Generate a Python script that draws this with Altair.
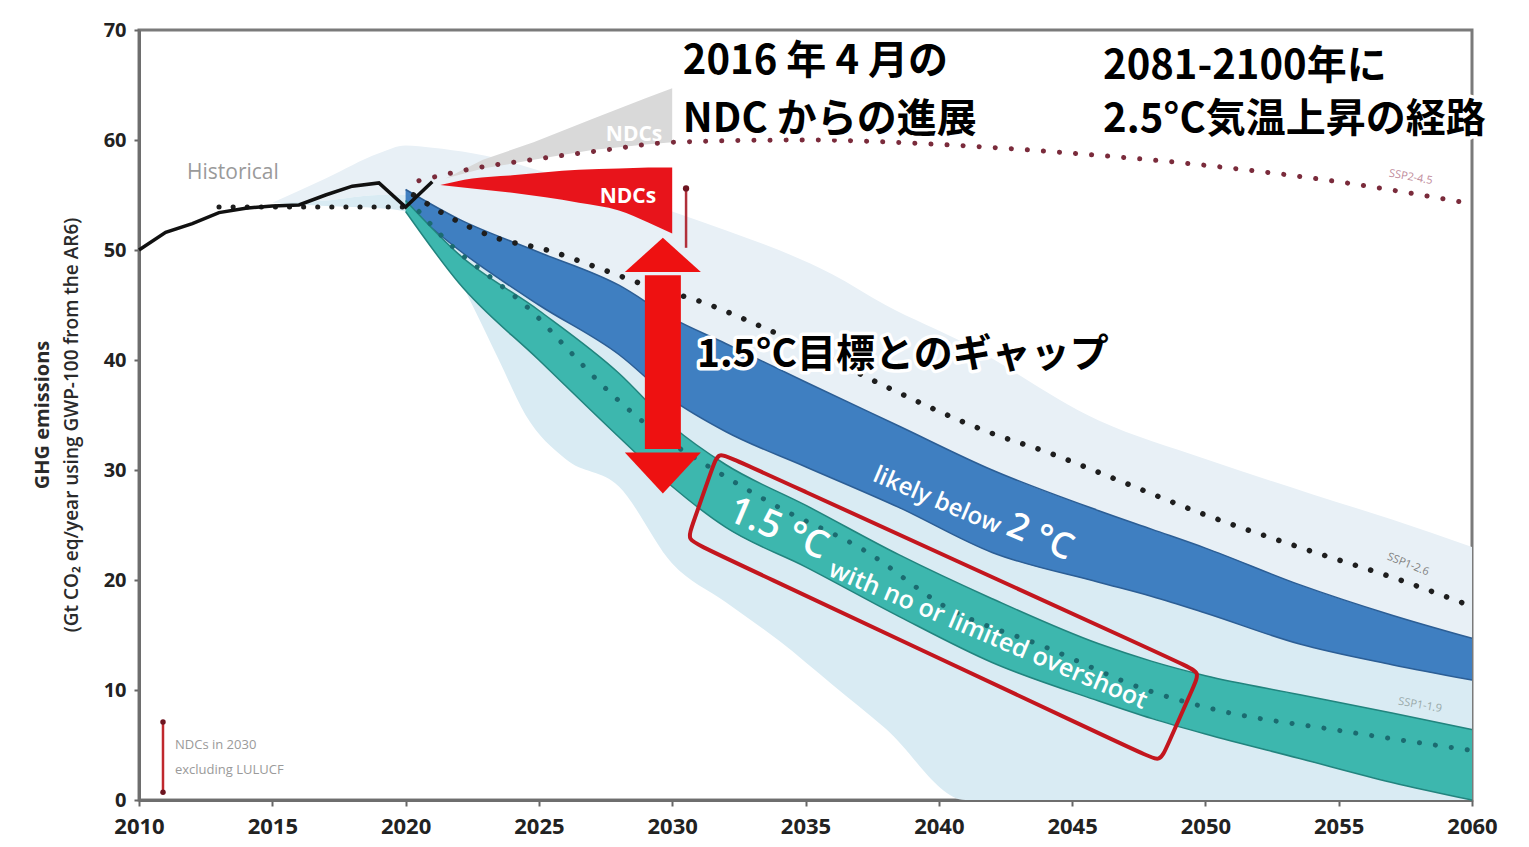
import math
import altair as alt
import pandas as pd

# ---------------- data ----------------
hist_years = [2010, 2011, 2012, 2013, 2014, 2015, 2016, 2017, 2018, 2019, 2020, 2021]
hist_vals = [50.0, 51.6, 52.4, 53.4, 53.8, 54.0, 54.1, 55.0, 55.8, 56.1, 53.9, 56.2]

base_years = [2013, 2020]
base_vals = [53.9, 53.9]

haze_years = [2015, 2017, 2019, 2020, 2021, 2022.5, 2023.5, 2024.5, 2026, 2028, 2030,
              2032, 2034, 2036, 2038, 2041, 2046, 2050, 2054, 2057, 2060]
haze_top = [54.3, 56.5, 58.8, 59.5, 59.3, 58.8, 58.3, 57.6, 56.5, 55.0, 53.5,
            51.8, 50.0, 47.8, 45.0, 41.5, 34.5, 31.0, 27.8, 25.5, 23.0]
haze_mid = [54.3, 54.5, 55.0, 55.0, 54.0, 50.0, 48.5, 47.5, 45.5, 43.0, 39.5,
            37.0, 34.5, 32.5, 30.5, 27.5, 23.0, 20.0, 16.5, 14.5, 13.0]
haze_low = [54.3, 54.0, 53.8, 53.5, 52.0, 45.0, 40.0, 35.0, 31.0, 28.5, 21.5,
            18.0, 14.5, 10.5, 6.5, 0.0, 0.0, 0.0, 0.0, 0.0, 0.0]

ndc16_years = [2021.5, 2022.9, 2024.8, 2027, 2029, 2030]
ndc16_top = [56.5, 58.2, 59.8, 61.9, 63.8, 64.7]
ndc16_bot = [56.5, 57.4, 58.2, 59.1, 59.6, 59.8]

ndc_years = [2021.3, 2022.5, 2024, 2026.5, 2028, 2029.1, 2030]
ndc_top = [55.9, 56.5, 56.8, 57.3, 57.4, 57.5, 57.5]
ndc_bot = [55.9, 55.6, 55.2, 54.3, 53.6, 52.5, 51.5]

band_years = [2020, 2022, 2025, 2028, 2030, 2032, 2035, 2038.5, 2042, 2046, 2048, 2050, 2053.5, 2057, 2060]
b2_top = [55.5, 52.8, 49.8, 46.8, 43.8, 41.5, 38.0, 34.0, 30.0, 26.3, 24.6, 22.9, 19.6, 16.8, 14.7]
b2_bot = [54.0, 50.0, 45.0, 40.5, 36.4, 33.5, 30.3, 26.6, 22.5, 19.8, 18.5, 17.0, 14.2, 12.3, 10.9]
b15_top = [54.5, 49.6, 44.5, 38.8, 34.0, 30.5, 26.8, 22.3, 18.3, 14.2, 12.6, 11.3, 9.6, 7.9, 6.4]
b15_bot = [53.5, 47.0, 40.0, 33.0, 28.5, 24.8, 21.2, 16.7, 12.5, 9.0, 7.4, 6.0, 3.8, 1.6, 0.0]

ssp245_years = [2020.5, 2022.3, 2025, 2027.5, 2030, 2035, 2040, 2045, 2050, 2055, 2060]
ssp245_vals = [56.3, 57.3, 58.3, 59.1, 59.8, 60.0, 59.6, 58.8, 57.7, 56.2, 54.2]

ssp126_years = [2020.3, 2021.5, 2023.4, 2025.3, 2027.2, 2029, 2031.2, 2033, 2035, 2038,
                2041.7, 2044.2, 2046.7, 2049.8, 2053.5, 2057.3, 2060]
ssp126_vals = [55.0, 53.2, 51.1, 50.0, 48.4, 46.8, 45.2, 43.4, 41.2, 37.6,
               33.6, 31.5, 29.1, 26.1, 23.0, 20.0, 17.6]

ssp119_years = [2020.5, 2021.9, 2023.2, 2024.7, 2026, 2027.3, 2028.7, 2032.2, 2034,
                2037.2, 2040.3, 2044, 2047.8, 2050.4, 2054.8, 2060]
ssp119_vals = [53.5, 50.0, 47.5, 44.5, 41.2, 37.9, 34.8, 29.1, 26.6,
               22.7, 17.5, 13.9, 10.0, 8.2, 6.4, 4.5]

# NDC 2030 range bar and legend bar
ndc_bar_year = [2030.52]
ndc_bar_low = [50.2]
ndc_bar_high = [55.6]
legend_bar_year = [2010.9]
legend_bar_low = [0.7]
legend_bar_high = [7.1]

# gap arrow (1.5 °C gap)
arrow_year = [2029.65]
arrow_low = [31.6]
arrow_high = [48.0]

# rotated highlight box around the 1.5 °C band label
box_years = [2031.72, 2049.80, 2048.30, 2030.56]
box_vals = [31.64, 11.64, 3.45, 23.64]

# ---------------- helpers ----------------
W, H = 1333, 770
PPY = W / 50.0
PPU = H / 70.0

xscale = alt.Scale(domain=[2010, 2060], nice=False, zero=False)
yscale = alt.Scale(domain=[0, 70], nice=False, zero=False)
xaxis = alt.Axis(values=list(range(2010, 2061, 5)), format="d", title=None, grid=False,
                 labelFont="Open Sans", labelFontSize=22, labelFontWeight="bold",
                 labelColor="#222222", labelPadding=10, tickSize=6, tickColor="#666666",
                 tickWidth=2, domainColor="#6e6e6e", domainWidth=3, labelFlush=False,
                 labelOverlap=False)
yaxis = alt.Axis(values=list(range(0, 71, 10)), title=None, grid=False,
                 labelFont="Open Sans", labelFontSize=20, labelFontWeight="bold",
                 labelColor="#222222", labelPadding=8, tickSize=5, tickColor="#666666",
                 tickWidth=2, domainColor="#6e6e6e", domainWidth=3, labelFlush=False,
                 labelOverlap=False)
X = alt.X("year:Q", scale=xscale, axis=xaxis)
Y = alt.Y("val:Q", scale=yscale, axis=yaxis)


def band(years, lo, hi, color, interp="monotone"):
    d = pd.DataFrame({"year": years, "val": lo, "val2": hi})
    return alt.Chart(d).mark_area(color=color, interpolate=interp).encode(x=X, y=Y, y2="val2:Q")


def line(years, vals, color, width, interp="monotone", dotted=False, dash=16):
    d = pd.DataFrame({"year": years, "val": vals})
    kw = dict(color=color, strokeWidth=width, interpolate=interp)
    if dotted:
        kw.update(strokeDash=[0.1, dash], strokeCap="round")
    return alt.Chart(d).mark_line(**kw).encode(x=X, y=Y)


def texts(labels, years, vals, **props):
    d = pd.DataFrame({"t": labels, "year": years, "val": vals})
    return alt.Chart(d).mark_text(**props).encode(x=X, y=Y, text="t:N")


layers = []

# haze of scenario ranges
layers.append(band(haze_years, haze_mid, haze_top, "#e8f0f6"))
layers.append(band(haze_years, haze_low, haze_mid, "#d9ebf3"))

# 2016 NDCs (grey) wedge
layers.append(band(ndc16_years, ndc16_bot, ndc16_top, "#d9d9d9", interp="linear"))

# likely below 2 °C band
layers.append(band(band_years, b2_bot, b2_top, "#3f7fc1"))
layers.append(line(band_years, b2_top, "#2c5e95", 1.5))
layers.append(line(band_years, b2_bot, "#2c5e95", 1.5))

# 1.5 °C band
layers.append(band(band_years, b15_bot, b15_top, "#3db7ae"))
layers.append(line(band_years, b15_top, "#22847e", 1.5))
layers.append(line(band_years, b15_bot, "#22847e", 1.5))

# SSP dotted pathways
layers.append(line(ssp245_years, ssp245_vals, "#7a2b3b", 5, dotted=True, dash=16))
layers.append(line(ssp126_years, ssp126_vals, "#1e1e1e", 5.5, dotted=True, dash=16))
layers.append(line(ssp119_years, ssp119_vals, "#1b6b70", 5, dotted=True, dash=16))
layers.append(line(base_years, base_vals, "#1e1e1e", 5, interp="linear", dotted=True, dash=14))

# historical
layers.append(line(hist_years, hist_vals, "#111111", 3.5, interp="linear"))

# current NDCs (red) wedge
layers.append(band(ndc_years, ndc_bot, ndc_top, "#e8141b"))

# NDC 2030 range bar
d_bar = pd.DataFrame({"year": ndc_bar_year, "val": ndc_bar_low, "val2": ndc_bar_high})
layers.append(alt.Chart(d_bar).mark_rule(color="#b0303a", strokeWidth=2.5)
              .encode(x=X, y=Y, y2="val2:Q"))
layers.append(alt.Chart(pd.DataFrame({"year": ndc_bar_year, "val": ndc_bar_high}))
              .mark_point(filled=True, color="#6e1520", size=40, opacity=1).encode(x=X, y=Y))

# legend bar
d_lb = pd.DataFrame({"year": legend_bar_year, "val": legend_bar_low, "val2": legend_bar_high})
layers.append(alt.Chart(d_lb).mark_rule(color="#c0282d", strokeWidth=2.5)
              .encode(x=X, y=Y, y2="val2:Q"))
layers.append(alt.Chart(pd.DataFrame({"year": legend_bar_year * 2,
                                      "val": legend_bar_low + legend_bar_high}))
              .mark_point(filled=True, color="#6e1520", size=30, opacity=1).encode(x=X, y=Y))

# gap arrow
d_arrow = pd.DataFrame({"year": arrow_year, "val": [arrow_low[0] + 0.3], "val2": [arrow_high[0] - 0.3]})
layers.append(alt.Chart(d_arrow).mark_rule(color="#ee1111", strokeWidth=36)
              .encode(x=X, y=Y, y2="val2:Q"))
layers.append(alt.Chart(pd.DataFrame({"year": arrow_year, "val": arrow_high}))
              .mark_point(filled=True, color="#ee1111", opacity=1, size=5776,
                          shape="M0,-0.9L1,0L-1,0Z").encode(x=X, y=Y))
layers.append(alt.Chart(pd.DataFrame({"year": arrow_year, "val": arrow_low}))
              .mark_point(filled=True, color="#ee1111", opacity=1, size=5776,
                          shape="M0,1.08L1,0L-1,0Z").encode(x=X, y=Y))

# rounded highlight box (control points near corners for a basis-closed curve)
pts = []
radius = 16.0
n = len(box_years)
for i in range(n):
    cx, cy = box_years[i], box_vals[i]
    px_, py_ = box_years[i - 1], box_vals[i - 1]
    nx_, ny_ = box_years[(i + 1) % n], box_vals[(i + 1) % n]
    lp = math.hypot((px_ - cx) * PPY, (py_ - cy) * PPU)
    ln = math.hypot((nx_ - cx) * PPY, (ny_ - cy) * PPU)
    fp, fn = radius / lp, radius / ln
    pts.append((cx + fp * (px_ - cx), cy + fp * (py_ - cy)))
    pts.append((cx, cy))
    pts.append((cx + fn * (nx_ - cx), cy + fn * (ny_ - cy)))
d_box = pd.DataFrame({"year": [p[0] for p in pts], "val": [p[1] for p in pts],
                      "i": list(range(len(pts)))})
layers.append(alt.Chart(d_box).mark_line(color="#c3161e", strokeWidth=4,
                                         interpolate="basis-closed")
              .encode(x=X, y=Y, order="i:Q"))

# ---------------- text ----------------
layers.append(texts(["Historical"], [2011.8], [57.0], align="left", baseline="middle",
                    font="Open Sans", fontSize=21, color="#9a9a9a"))
layers.append(texts(["NDCs"], [2028.57], [60.45], align="center", baseline="middle",
                    font="Open Sans", fontSize=21, fontWeight="bold", color="#ffffff"))
layers.append(texts(["NDCs"], [2028.34], [54.8], align="center", baseline="middle",
                    font="Open Sans", fontSize=21, fontWeight="bold", color="#ffffff"))
layers.append(texts(["NDCs in 2030", "excluding LULUCF"], [2011.35, 2011.35], [5.0, 2.73],
                    align="left", baseline="middle", font="Open Sans", fontSize=13,
                    color="#9a9a9a"))
layers.append(texts(["SSP2-4.5"], [2057.7], [56.6], align="center", baseline="middle",
                    font="Open Sans", fontSize=11, color="#c08a9a", angle=10))
layers.append(texts(["SSP1-2.6"], [2057.6], [21.4], align="center", baseline="middle",
                    font="Open Sans", fontSize=11, color="#808080", angle=22))
layers.append(texts(["SSP1-1.9"], [2058.05], [8.6], align="center", baseline="middle",
                    font="Open Sans", fontSize=11, color="#9aaaaa", angle=10))

band_txt = dict(align="center", baseline="middle", font="Open Sans", fontWeight=600,
                color="#ffffff", angle=23)
layers.append(texts(["likely below"], [2039.93], [27.2], fontSize=24, **band_txt))
layers.append(texts(["2 °C"], [2043.8], [23.9], fontSize=36, **band_txt))
layers.append(texts(["1.5 °C"], [2033.97], [24.6], fontSize=38, **band_txt))
layers.append(texts(["with no or limited overshoot"], [2041.85], [15.0], fontSize=25, **band_txt))

jp_labels = ["2016 年 4 月の", "NDC からの進展", "2081-2100年に", "2.5°C気温上昇の経路",
             "1.5°C目標とのギャップ"]
jp_years = [2030.4, 2030.4, 2046.16, 2046.16, 2030.93]
jp_vals = [67.1, 61.8, 66.6, 61.8, 40.45]
jp_sizes = [40, 40, 40, 40, 39]
d_jp = pd.DataFrame({"t": jp_labels, "year": jp_years, "val": jp_vals, "s": jp_sizes})
layers.append(alt.Chart(d_jp).mark_text(align="left", baseline="middle",
                                        font="Noto Sans CJK JP", fontWeight="bold",
                                        color="#ffffff", stroke="#ffffff", strokeWidth=7,
                                        strokeJoin="round")
              .encode(x=X, y=Y, text="t:N", size=alt.Size("s:Q", scale=None, legend=None)))
layers.append(alt.Chart(d_jp).mark_text(align="left", baseline="middle",
                                        font="Noto Sans CJK JP", fontWeight="bold",
                                        color="#000000")
              .encode(x=X, y=Y, text="t:N", size=alt.Size("s:Q", scale=None, legend=None)))

# y axis title (two lines)
layers.append(alt.Chart(pd.DataFrame({"t": ["GHG emissions"]})).mark_text(
    angle=270, align="center", baseline="middle", font="Open Sans", fontSize=20,
    fontWeight="bold", color="#2a2a2a").encode(x=alt.value(-96), y=alt.value(385), text="t:N"))
layers.append(alt.Chart(pd.DataFrame({"t": ["(Gt CO\u2082 eq/year using GWP-100 from the AR6)"]})).mark_text(
    angle=270, align="center", baseline="middle", font="Open Sans", fontSize=19,
    fontWeight=600, color="#2a2a2a").encode(x=alt.value(-67), y=alt.value(395), text="t:N"))

chart = alt.layer(*layers).properties(
    width=W, height=H,
    padding={"left": 139, "top": 30, "right": 57, "bottom": 47},
    autosize=alt.AutoSizeParams(type="none"),
    background="#ffffff",
).configure_view(stroke="#7a7a7a", strokeWidth=3)

chart.save("out.html", embed_options={"renderer": "svg", "actions": False})
